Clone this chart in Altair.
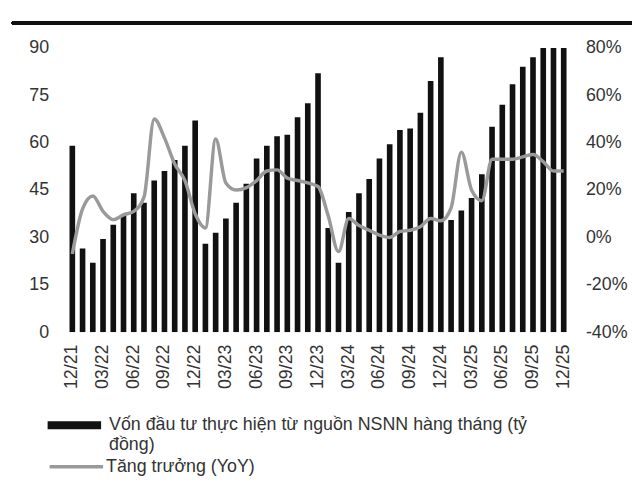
import altair as alt
import pandas as pd

months = ["12/21", "01/22", "02/22", "03/22", "04/22", "05/22", "06/22", "07/22", "08/22", "09/22",
          "10/22", "11/22", "12/22", "01/23", "02/23", "03/23", "04/23", "05/23", "06/23", "07/23",
          "08/23", "09/23", "10/23", "11/23", "12/23", "01/24", "02/24", "03/24", "04/24", "05/24",
          "06/24", "07/24", "08/24", "09/24", "10/24", "11/24", "12/24", "01/25", "02/25", "03/25",
          "04/25", "05/25", "06/25", "07/25", "08/25", "09/25", "10/25", "11/25", "12/25"]

capital = [59, 26.5, 22, 29.5, 34, 37, 44, 41, 48, 51,
           54.5, 59, 67, 28, 31.5, 36, 41, 47, 55, 59,
           62, 62.5, 68, 72.5, 82, 33, 22, 38, 44, 48.5,
           55, 59.5, 64, 64.5, 69.5, 79.5, 87, 35.5, 38.5, 42.5,
           50, 65, 72, 78.5, 84, 87, 92, 92, 92]

growth_pct = [-7, 12, 17.5, 11, 7.5, 9.5, 11, 17, 50, 42,
              31, 24, 10, 4, 41.5, 23, 20, 21, 24, 28,
              28.5, 25, 24, 23, 21.5, 9, -6, 8, 5, 3,
              1, 0, 2.5, 3, 4.5, 8, 7, 12.5, 36, 20,
              15.5, 33, 33, 33, 34, 35, 32, 28, 28]

tick_labels = ["12/21", "03/22", "06/22", "09/22", "12/22", "03/23", "06/23", "09/23", "12/23",
               "03/24", "06/24", "09/24", "12/24", "03/25", "06/25", "09/25", "12/25"]
left_ticks = [0, 15, 30, 45, 60, 75, 90]
right_ticks = [-0.4, -0.2, 0, 0.2, 0.4, 0.6, 0.8]

bar_name = "Vốn đầu tư thực hiện từ nguồn NSNN hàng tháng (tỷ đồng)"
line_name = "Tăng trưởng (YoY)"

df = pd.DataFrame({
    "month": months,
    "capital": capital,
    "growth": [g / 100 for g in growth_pct],
    "s1": bar_name,
    "s2": line_name,
})

FONT = "Liberation Sans"
TXT = "#333333"

x = alt.X("month:N", sort=months,
          scale=alt.Scale(paddingInner=0.45, paddingOuter=0.3),
          axis=alt.Axis(values=tick_labels, labelAngle=-90, labelAlign="right",
                        labelBaseline="middle", labelPadding=12, title=None))

bars = alt.Chart(df).mark_bar(clip=True).encode(
    x=x,
    y=alt.Y("capital:Q", scale=alt.Scale(domain=[0, 90], nice=False),
            axis=alt.Axis(values=left_ticks, orient="left", title=None, labelPadding=18)),
    fill=alt.Fill("s1:N", scale=alt.Scale(range=["#111111"]),
                  legend=alt.Legend(orient="none", legendX=-19, legendY=354, title=None,
                                    symbolType="M-1,-0.148H1V0.148H-1Z", symbolSize=2916,
                                    symbolStrokeWidth=0, labelOffset=8, padding=0,
                                    labelExpr="['Vốn đầu tư thực hiện từ nguồn NSNN hàng tháng (tỷ', 'đồng)']",
                                    labelFontSize=18, labelLimit=0)),
)

line = alt.Chart(df).mark_line(interpolate="monotone", strokeWidth=3.5).encode(
    x=x,
    y=alt.Y("growth:Q", scale=alt.Scale(domain=[-0.4, 0.8], nice=False),
            axis=alt.Axis(values=right_ticks, orient="right", format=".0%", title=None,
                          labelExpr="replace(datum.label, '−', '-')",
                          labelPadding=16)),
    stroke=alt.Stroke("s2:N", scale=alt.Scale(range=["#9a9a9a"]),
                      legend=alt.Legend(orient="none", legendX=-19, legendY=394, title=None,
                                        symbolType="stroke", symbolSize=2916,
                                        symbolStrokeWidth=3.5, labelOffset=1, padding=0,
                                        labelFontSize=18, labelLimit=0)),
)

rule = alt.Chart(df).mark_rule(color="#111111", strokeWidth=3).encode(
    x=alt.value(-55), x2=alt.value(600), y=alt.value(-25)
)

chart = alt.layer(bars, line, rule).resolve_scale(
    y="independent", fill="independent", stroke="independent"
).properties(
    width=508, height=287,
    autosize=alt.AutoSizeParams(type="none"),
    padding={"left": 59, "top": 38, "right": 63, "bottom": 146},
).configure_view(stroke=None).configure_axis(
    domain=False, ticks=False, grid=False, labelFont=FONT, labelFontSize=18, labelColor=TXT
).configure_legend(
    labelFont=FONT, labelColor=TXT
)

chart.save("out.html", embed_options={"renderer": "svg", "actions": False})
